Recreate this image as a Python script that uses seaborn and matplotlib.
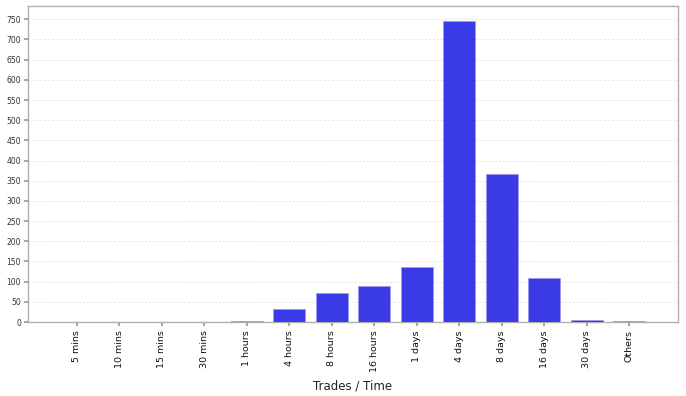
import matplotlib
matplotlib.use("Agg")
import matplotlib.pyplot as plt
import seaborn as sns
import pandas as pd

categories = ["5 mins", "10 mins", "15 mins", "30 mins", "1 hours", "4 hours", "8 hours",
              "16 hours", "1 days", "4 days", "8 days", "16 days", "30 days", "Others"]
trades = [0, 0, 0, 0, 2, 32, 72, 89, 136, 746, 366, 108, 6, 3]
y_ticks = list(range(0, 751, 50))

sns.set_theme(style="white")
plt.rcParams['font.family'] = ['DejaVu Sans']

df = pd.DataFrame({"cat": categories, "val": trades})
fig = plt.figure(figsize=(6.86, 3.96), dpi=100)
ax = fig.add_axes([28/686, 1-322/396, 650/686, 316/396])
sns.barplot(data=df, x="cat", y="val", order=categories, color="#3a3ae6",
            saturation=1, width=0.75, ax=ax, edgecolor="#9a9af0", linewidth=0.7, zorder=3)
ax.set_xlim(-1.15, 14.15)
ax.set_ylim(0, 783)
ax.set_yticks(y_ticks)
ax.yaxis.grid(True, linestyle=(0, (2, 2)), color="#e2e2e2", linewidth=0.7, zorder=0)
ax.set_axisbelow(True)
ax.tick_params(axis="y", labelsize=5.5, length=3, color="#999999", pad=2, left=True, labelcolor="#333333")
ax.tick_params(axis="x", labelsize=6.8, length=3, color="#999999", pad=3, bottom=True, rotation=90,
               labelcolor="#111111")
for s in ax.spines.values():
    s.set_color("#b0b0b0")
    s.set_linewidth(1)
ax.set_xlabel("Trades / Time", fontsize=8.5, labelpad=5, color="#222222")
ax.set_ylabel("")
fig.savefig("out.png", dpi=100)
